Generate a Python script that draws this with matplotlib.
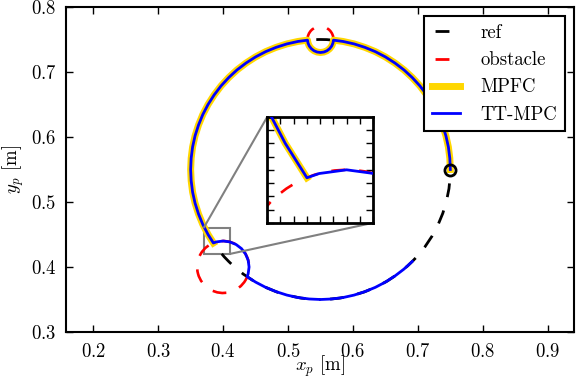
import numpy as np
import matplotlib.pyplot as plt
from matplotlib.patches import Circle, Ellipse
from matplotlib.lines import Line2D
from mpl_toolkits.axes_grid1.inset_locator import mark_inset

# reference circle and obstacles (center, radius)
ref_center = (0.55, 0.55)
ref_radius = 0.2
obst_centers = [(0.55, 0.75), (0.40, 0.40)]
obst_radii = [0.02, 0.04]

# MPFC trajectory (stops at the second obstacle)
mpfc_x = [0.7500, 0.7492, 0.7470, 0.7432, 0.7379, 0.7313, 0.7232, 0.7138, 0.7032, 0.6914,
          0.6786, 0.6647, 0.6500, 0.6345, 0.6184, 0.6018, 0.5847, 0.5700,
          0.5693, 0.5673, 0.5641, 0.5600, 0.5552, 0.5500, 0.5448, 0.5400, 0.5359, 0.5327,
          0.5307, 0.5300,
          0.5153, 0.4982, 0.4816, 0.4655, 0.4500, 0.4353, 0.4214, 0.4086, 0.3968, 0.3862,
          0.3768, 0.3687, 0.3621, 0.3568, 0.3530, 0.3508, 0.3500, 0.3508, 0.3530, 0.3568,
          0.3621, 0.3687, 0.3768, 0.3850]
mpfc_y = [0.5500, 0.5674, 0.5847, 0.6018, 0.6184, 0.6345, 0.6500, 0.6647, 0.6786, 0.6914,
          0.7032, 0.7138, 0.7232, 0.7313, 0.7379, 0.7432, 0.7470, 0.7490,
          0.7448, 0.7400, 0.7359, 0.7327, 0.7307, 0.7300, 0.7307, 0.7327, 0.7359, 0.7400,
          0.7448, 0.7490,
          0.7470, 0.7432, 0.7379, 0.7313, 0.7232, 0.7138, 0.7032, 0.6914, 0.6786, 0.6647,
          0.6500, 0.6345, 0.6184, 0.6018, 0.5847, 0.5674, 0.5500, 0.5326, 0.5153, 0.4982,
          0.4816, 0.4655, 0.4500, 0.4370]

# TT-MPC follows the same path, then goes around the obstacle
tt_x = mpfc_x + [0.3896, 0.4000, 0.4104, 0.4200, 0.4283, 0.4346, 0.4386, 0.4400, 0.4386,
                 0.4370, 0.4500, 0.4655, 0.4816, 0.4982, 0.5153, 0.5326, 0.5500, 0.5674,
                 0.5847, 0.6018, 0.6184, 0.6345, 0.6500, 0.6647, 0.6786, 0.6914]
tt_y = mpfc_y + [0.4386, 0.4400, 0.4386, 0.4346, 0.4283, 0.4200, 0.4104, 0.4000, 0.3896,
                 0.3850, 0.3768, 0.3687, 0.3621, 0.3568, 0.3530, 0.3508, 0.3500, 0.3508,
                 0.3530, 0.3568, 0.3621, 0.3687, 0.3768, 0.3862, 0.3968, 0.4086]

zoom_xlim = (0.37, 0.41)
zoom_ylim = (0.42, 0.46)

plt.rcParams.update({
    'font.family': 'cmr10',
    'mathtext.fontset': 'cm',
    'axes.formatter.use_mathtext': True,
    'font.size': 13.5,
    'axes.linewidth': 1.5,
    'xtick.direction': 'in', 'ytick.direction': 'in',
    'xtick.top': True, 'ytick.right': True,
    'xtick.major.size': 5, 'ytick.major.size': 5,
    'xtick.major.width': 1.0, 'ytick.major.width': 1.0,
    'xtick.major.pad': 8, 'ytick.major.pad': 7,
})

GOLD = '#FFD700'
LW_REF, LW_OBS, LW_TT = 2.0, 1.9, 2.0


def dashed(lw, offset):
    # 10pt on / 10pt off, offset in points
    return (offset / lw, (10 / lw, 10 / lw))


def draw(ax, ref=True):
    if ref:
        ax.add_patch(Circle(ref_center, ref_radius, fill=False, ec='k', lw=LW_REF,
                            ls=dashed(LW_REF, 13.1), zorder=1.5))
    # start angle of the circle path and dash offset per obstacle
    for c, r, ang, off in zip(obst_centers, obst_radii, [0, 150], [5.6, 19.1]):
        ax.add_patch(Ellipse(c, 2 * r, 2 * r, angle=ang, fill=False, ec='r', lw=LW_OBS,
                             ls=dashed(LW_OBS, off), zorder=1.6))
    ax.plot(mpfc_x, mpfc_y, color=GOLD, lw=5, zorder=2)
    ax.plot(tt_x, tt_y, color='b', lw=LW_TT, zorder=3)


fig = plt.figure(figsize=(5.78, 3.9), dpi=100)
ax = fig.add_axes([66 / 578, 1 - 332 / 390, 508 / 578, 325 / 390])
draw(ax)
ax.plot(mpfc_x[0], mpfc_y[0], 'o', mfc='none', mec='k', ms=8, mew=2, zorder=4)

ax.set_xlim(0.158, 0.9405)
ax.set_ylim(0.3, 0.8)
ax.set_xticks(np.arange(0.2, 0.91, 0.1))
ax.set_yticks(np.arange(0.3, 0.81, 0.1))
ax.set_xlabel(r'$x_p$ [m]')
ax.set_ylabel(r'$y_p$ [m]')
ax.xaxis.set_label_coords(0.5, -0.068)
ax.yaxis.set_label_coords(-0.079, 0.5)

handles = [
    Line2D([], [], color='k', lw=LW_REF, ls=dashed(LW_REF, 17.8)),
    Line2D([], [], color='r', lw=LW_REF, ls=dashed(LW_REF, 17.8)),
    Line2D([], [], color=GOLD, lw=5),
    Line2D([], [], color='b', lw=LW_TT),
]
leg = ax.legend(handles, ['ref', 'obstacle', 'MPFC', 'TT-MPC'], loc='upper right',
                fancybox=False, framealpha=1, edgecolor='k', handlelength=1.5,
                handletextpad=1.1, borderaxespad=0.5)
leg.get_frame().set_linewidth(1.5)

# zoomed inset
axins = ax.inset_axes([0.468, 0.468, 0.163, 0.163], transform=ax.transData)
draw(axins, ref=False)
axins.set_xlim(*zoom_xlim)
axins.set_ylim(*zoom_ylim)
axins.set_xticks(np.arange(0.37, 0.4101, 0.005))
axins.set_yticks(np.arange(0.42, 0.4601, 0.005))
axins.tick_params(labelbottom=False, labelleft=False, length=5, width=1.0)
for s in axins.spines.values():
    s.set_linewidth(2)
mark_inset(ax, axins, loc1=2, loc2=4, fc='none', ec='0.5', lw=1.5)

fig.savefig('out.png', dpi=100)
